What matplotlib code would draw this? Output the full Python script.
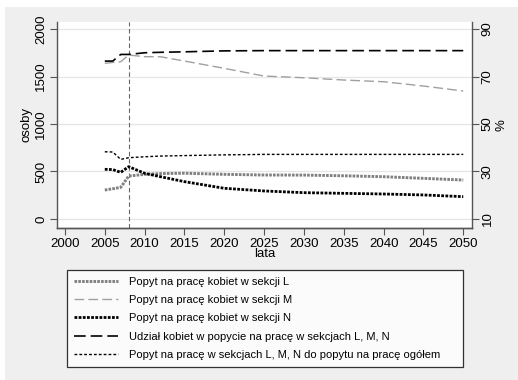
import matplotlib
matplotlib.use("Agg")
import matplotlib.pyplot as plt
from matplotlib.patches import Rectangle

plt.rcParams['font.family'] = ['Liberation Sans', 'DejaVu Sans']

# data
years = [2005, 2006, 2007, 2008, 2010, 2012, 2015, 2020, 2025, 2030, 2035, 2040, 2045, 2050]
sekcja_l = [305, 318, 333, 452, 470, 478, 482, 470, 463, 462, 455, 445, 428, 410]
sekcja_m = [1639, 1648, 1656, 1726, 1709, 1708, 1663, 1586, 1505, 1487, 1463, 1445, 1400, 1347]
sekcja_n = [523, 520, 491, 551, 481, 445, 393, 323, 295, 277, 270, 263, 253, 235]
udzial = [76.5, 76.5, 79.3, 79.3, 80.0, 80.2, 80.4, 80.8, 80.9, 80.9, 80.9, 80.9, 80.9, 80.9]
ogolem = [38.3, 38.2, 35.1, 35.8, 36.2, 36.5, 36.7, 37.0, 37.2, 37.2, 37.2, 37.2, 37.2, 37.2]

labels = [
    "Popyt na pracę kobiet w sekcji L",
    "Popyt na pracę kobiet w sekcji M",
    "Popyt na pracę kobiet w sekcji N",
    "Udział kobiet w popycie na pracę w sekcjach L, M, N",
    "Popyt na pracę w sekcjach L, M, N do popytu na pracę ogółem",
]
x_ticks = list(range(2000, 2051, 5))
left_ticks = [0, 500, 1000, 1500, 2000]
right_ticks = [10, 30, 50, 70, 90]

fig = plt.figure(figsize=(5.18, 3.80), dpi=100)
fig.patch.set_facecolor('white')
fig.patches.append(Rectangle((5 / 518, 0), 1, 1 - 7 / 380, transform=fig.transFigure,
                             facecolor='#efefef', edgecolor='none', zorder=-10))

ax = fig.add_axes([57 / 518, 1 - 228 / 380, 415 / 518, 206 / 380])
ax.set_facecolor('white')
ax2 = ax.twinx()

spine_col = '#555555'
ax.set_xlim(1999, 2051.1)
ax.set_ylim(-95, 2074)
ax2.set_ylim(10 - 95 / 25, 10 + 2074 / 25)

for y in left_ticks:
    ax.axhline(y, color='#e6e6e6', lw=0.9, zorder=0)
ax.axvline(2008, color='#666666', lw=0.8, ls=(0, (4, 2.5)), zorder=1)

h1, = ax.plot(years, sekcja_l, color='#808080', lw=2.1, ls=(0, (0.9, 0.4)), label=labels[0])
h2, = ax.plot(years, sekcja_m, color='#a0a0a0', lw=1.0, ls=(0, (7, 3)), label=labels[1])
h3, = ax.plot(years, sekcja_n, color='black', lw=2.0, ls=(0, (1.0, 0.5)), label=labels[2])
h4, = ax2.plot(years, udzial, color='black', lw=1.2, ls=(0, (7, 3)), label=labels[3])
h5, = ax2.plot(years, ogolem, color='black', lw=1.0, ls=(0, (2, 1.5)), label=labels[4])

ax.set_xticks(x_ticks)
ax.set_yticks(left_ticks)
ax2.set_yticks(right_ticks)
ax.tick_params(axis='x', labelsize=9.5, length=5, color=spine_col, pad=2)
ax.tick_params(axis='y', labelsize=9.5, length=5, color=spine_col, labelrotation=90, pad=2)
ax2.tick_params(axis='y', labelsize=9.5, length=5, color=spine_col, labelrotation=90, pad=2)
for t in ax.get_yticklabels() + ax2.get_yticklabels():
    t.set_verticalalignment('center')

for a in (ax, ax2):
    a.spines['top'].set_visible(False)
    for s in ('left', 'right', 'bottom'):
        a.spines[s].set_color(spine_col)
        a.spines[s].set_linewidth(1.0)
ax.spines['right'].set_visible(False)
ax2.spines['left'].set_visible(False)

ax.set_xlabel("lata", fontsize=9.5, labelpad=-1)
ax.set_ylabel("osoby", fontsize=9.5, labelpad=2)
ax2.set_ylabel("%", fontsize=9.5, labelpad=1)

# legend box: x 67..463, y 270..368 px from top
leg = fig.legend(handles=[h1, h2, h3, h4, h5], loc='upper left',
                 bbox_to_anchor=(67 / 518, 1 - 368 / 380, 396 / 518, 98 / 380),
                 mode='expand', fontsize=8, frameon=True, fancybox=False,
                 handlelength=4.0, handletextpad=1.0, labelspacing=0.75,
                 borderaxespad=0, borderpad=0.6)
leg.get_frame().set_edgecolor('black')
leg.get_frame().set_linewidth(0.9)

fig.savefig("out.png", dpi=100, facecolor=fig.get_facecolor())
